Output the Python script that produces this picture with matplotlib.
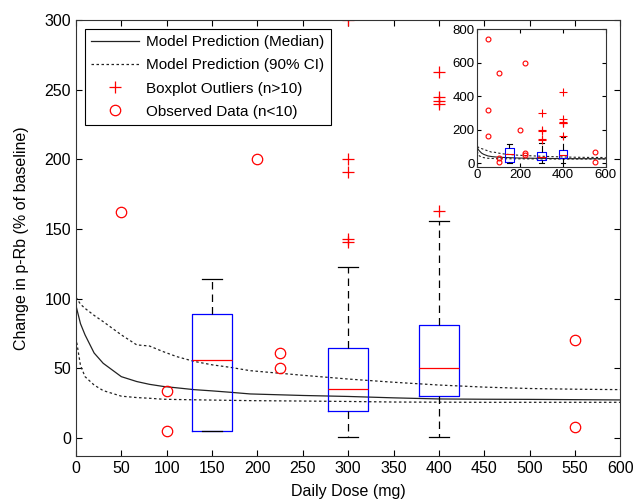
import matplotlib
matplotlib.use('Agg')
import matplotlib.pyplot as plt

plt.rcParams['font.family'] = ['Liberation Sans', 'DejaVu Sans']

# model prediction curves
dose_grid = [0, 5, 10, 20, 30, 50, 67, 81, 96, 111, 130, 150, 170, 192,
             250, 300, 350, 400, 450, 500, 550, 600]
pred_median = [95, 82, 74, 61, 53.6, 44, 40.5, 38.5, 37, 36, 34.7, 33.8, 32.8, 31.6,
               30.5, 29.8, 28.8, 28, 27.8, 27.7, 27.5, 27.3]
pred_upper = [101, 96, 93, 88, 83.5, 74, 66.8, 66, 62, 58.4, 55, 52.5, 50.7, 48.3,
              45, 42.3, 40, 38, 36.5, 35.5, 35, 34.7]
pred_lower = [72, 52, 44, 38, 34, 30, 29, 28.5, 27.8, 27.6, 27.4, 27.2, 27, 26.8,
              26.5, 26.2, 25.8, 25.7, 25.6, 25.6, 25.6, 25.6]

# boxplot summaries for doses with n>10
box_dose = [150, 300, 400]
box_q1 = [5, 19.6, 30.4]
box_med = [56, 35, 50]
box_q3 = [88.8, 64.7, 81.3]
box_wlo = [4.8, 1, 1]
box_whi = [114, 123, 156]
box_fliers = [[], [141, 143, 191, 200, 300], [163, 240, 242, 245, 263, 424]]

# observed data for doses with n<10
obs_dose = [50, 50, 50, 100, 100, 100, 200, 225, 225, 225, 550, 550]
obs_val = [740, 320, 162, 537, 34, 5, 200, 600, 61, 50, 70, 8]

stats = []
for i in range(len(box_dose)):
    stats.append(dict(q1=box_q1[i], med=box_med[i], q3=box_q3[i],
                      whislo=box_wlo[i], whishi=box_whi[i], fliers=box_fliers[i]))


def draw(ax, box_w, ms_o, ms_p, lw):
    ax.plot(dose_grid, pred_median, color='#222222', lw=lw, label='Model Prediction (Median)')
    ax.plot(dose_grid, pred_upper, color='#222222', lw=lw, dashes=(2, 2),
            label='Model Prediction (90% CI)')
    ax.plot(dose_grid, pred_lower, color='#222222', lw=lw, dashes=(2, 2))
    ax.bxp(stats, positions=box_dose, widths=box_w, manage_ticks=False,
           boxprops=dict(color='blue', lw=lw),
           medianprops=dict(color='red', lw=lw),
           whiskerprops=dict(color='black', lw=lw, dashes=(6, 4)),
           capprops=dict(color='black', lw=lw),
           flierprops=dict(marker='+', markeredgecolor='red', markersize=ms_p,
                           linestyle='none', markeredgewidth=lw))
    ax.plot(obs_dose, obs_val, 'o', mfc='none', mec='red', ms=ms_o, mew=lw)
    ax.tick_params(direction='in', top=True, right=True)
    for s in ax.spines.values():
        s.set_color('#333333')


fig = plt.figure(figsize=(6.33, 4.99), dpi=100)
ax = fig.add_axes([0.120, 0.086, 0.860, 0.874])
draw(ax, 44, 7.5, 8, 0.9)
ax.set_xlim(0, 600)
ax.set_ylim(-13, 300)
ax.set_xticks(range(0, 601, 50))
ax.set_yticks(range(0, 301, 50))
ax.tick_params(labelsize=11.5, length=4)
ax.set_xlabel('Daily Dose (mg)', fontsize=11.5, labelpad=6)
ax.set_ylabel('Change in p-Rb (% of baseline)', fontsize=11.5, labelpad=11)

# legend entries
ax.plot([], [], '+', color='red', ms=8, mew=0.9, label='Boxplot Outliers (n>10)')
ax.plot([], [], 'o', mfc='none', mec='red', ms=7.5, mew=0.9, label='Observed Data (n<10)')
leg = ax.legend(loc='upper left', fontsize=11, fancybox=False, edgecolor='black',
                framealpha=1, borderaxespad=0.6, handlelength=3.1, handletextpad=0.5,
                labelspacing=0.6)
leg.get_frame().set_linewidth(0.8)

# inset with the full range
axin = fig.add_axes([0.754, 0.666, 0.203, 0.275])
draw(axin, 40, 3.5, 6, 0.8)
axin.set_xlim(0, 600)
axin.set_ylim(-20, 800)
axin.set_xticks([0, 200, 400, 600])
axin.set_yticks([0, 200, 400, 600, 800])
axin.tick_params(labelsize=9.5, length=3, pad=2)

fig.savefig('out.png', dpi=100)
